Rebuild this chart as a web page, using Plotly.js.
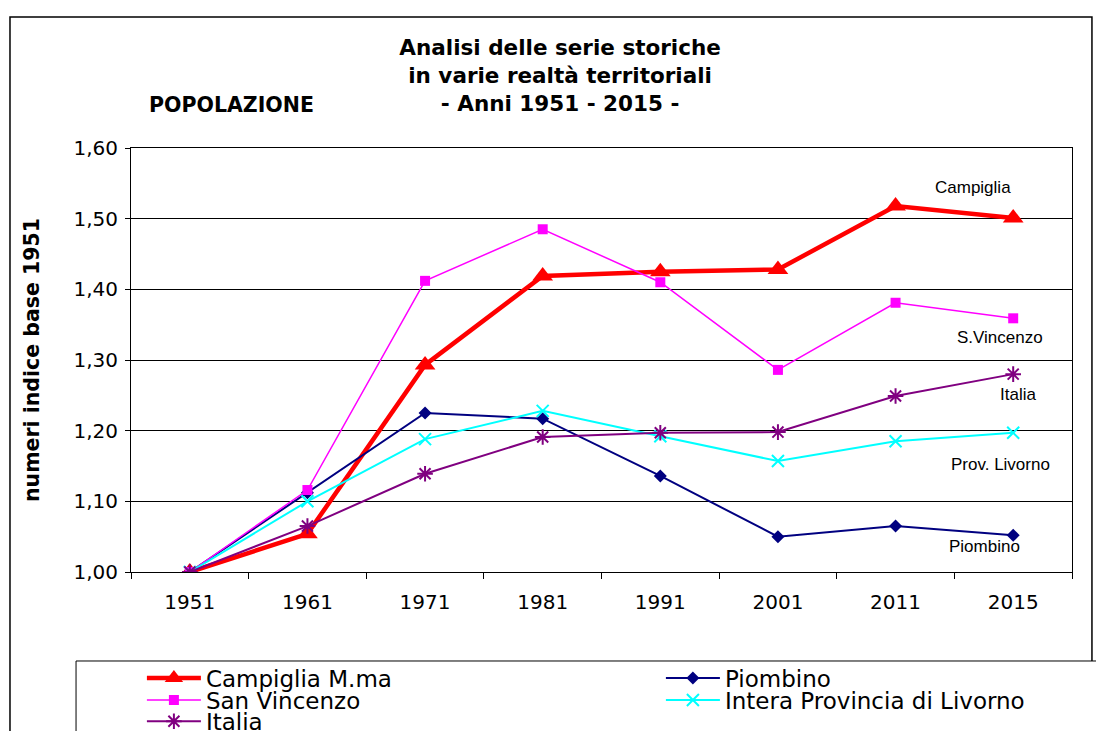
<!DOCTYPE html>
<html><head><meta charset="utf-8">
<script src="https://cdn.plot.ly/plotly-3.0.1.min.js"></script>
<style>body{margin:0;padding:0;background:#fff}#chart{width:1096px;height:731px}</style>
</head><body><div id="chart"></div>
<script>
const years = ['1951','1961','1971','1981','1991','2001','2011','2015'];
const campiglia = [1.000, 1.054, 1.293, 1.419, 1.425, 1.428, 1.518, 1.501];
const piombino = [1.000, 1.112, 1.225, 1.217, 1.136, 1.050, 1.065, 1.052];
const sanVincenzo = [1.000, 1.116, 1.412, 1.485, 1.410, 1.286, 1.381, 1.359];
const livorno = [1.000, 1.100, 1.188, 1.228, 1.192, 1.157, 1.185, 1.197];
const italia = [1.000, 1.065, 1.139, 1.191, 1.197, 1.198, 1.249, 1.280];
const seriesNames = ['Campiglia M.ma','Piombino','San Vincenzo','Intera Provincia di Livorno','Italia'];
const endLabels = ['Campiglia','S.Vincenzo','Italia','Prov. Livorno','Piombino'];

const traces = [
  {x: years, y: campiglia, name: seriesNames[0], type:'scatter', mode:'lines+markers', legend:'legend',
   line:{color:'#FF0000', width:4.5}, marker:{symbol:'triangle-up', size:18, color:'#FF0000'}},
  {x: years, y: piombino, name: seriesNames[1], type:'scatter', mode:'lines+markers', legend:'legend',
   line:{color:'#000080', width:2}, marker:{symbol:'diamond', size:10, color:'#000080'}},
  {x: years, y: sanVincenzo, name: seriesNames[2], type:'scatter', mode:'lines+markers', legend:'legend2',
   line:{color:'#FF00FF', width:1.5}, marker:{symbol:'square', size:10, color:'#FF00FF'}},
  {x: years, y: livorno, name: seriesNames[3], type:'scatter', mode:'lines+markers', legend:'legend2',
   line:{color:'#00FFFF', width:2}, marker:{symbol:'x-thin', size:12, color:'#00FFFF', line:{color:'#00FFFF', width:2}}},
  {x: years, y: italia, name: seriesNames[4], type:'scatter', mode:'lines+markers', legend:'legend3',
   line:{color:'#800080', width:2}, marker:{symbol:'asterisk', size:13, color:'#800080', line:{color:'#800080', width:2}}}
];

const legendBase = {orientation:'h', bgcolor:'rgba(0,0,0,0)', borderwidth:0, xanchor:'left', yanchor:'middle',
  x:-0.0001, indentation:11, entrywidth:439, entrywidthmode:'pixels', itemwidth:54,
  font:{family:'DejaVu Sans', size:23, color:'#000'}, itemclick:false, itemdoubleclick:false};

const labelFont = {family:'Liberation Sans', size:17, color:'#000'};
function endLabel(i, x, y) {
  return {text:endLabels[i], xref:'paper', yref:'paper', x:x, y:y, xanchor:'center', yanchor:'middle', showarrow:false, font:labelFont};
}

const layout = {
  width:1096, height:731,
  margin:{l:131, r:24, t:148, b:159, autoexpand:false},
  paper_bgcolor:'#fff', plot_bgcolor:'#fff',
  separators:',.',
  showlegend:true,
  legend: Object.assign({}, legendBase, {y:-0.25}),
  legend2: Object.assign({}, legendBase, {y:-0.302}),
  legend3: Object.assign({}, legendBase, {y:-0.352}),
  title:{text:'Analisi delle serie storiche<br>in varie realtà territoriali<br>- Anni 1951 - 2015 -',
    font:{family:'DejaVu Sans', size:21.5, color:'#000', weight:'bold'},
    xref:'paper', x:0.456, xanchor:'center', yref:'container', y:0.925, yanchor:'top'},
  xaxis:{type:'category', range:[-0.5,7.5], showgrid:false, showline:true, mirror:true, linecolor:'#000', linewidth:1,
    ticks:'outside', tickson:'boundaries', ticklen:6, tickcolor:'#000', ticklabelstandoff:12,
    tickfont:{family:'DejaVu Sans', size:20, color:'#000'}, zeroline:false, fixedrange:true},
  yaxis:{range:[1.0,1.6], dtick:0.1, tick0:1.0, tickformat:'.2f', showgrid:true, gridcolor:'#000', gridwidth:1,
    showline:true, mirror:true, linecolor:'#000', linewidth:1, ticks:'outside', ticklen:5, tickcolor:'#000', ticklabelstandoff:3,
    tickfont:{family:'DejaVu Sans', size:20, color:'#000'}, zeroline:false, fixedrange:true,
    title:{text:'numeri indice base 1951', font:{family:'DejaVu Sans', size:20.5, color:'#000', weight:'bold'}, standoff:28}},
  shapes:[
    {type:'rect', xref:'paper', yref:'paper', x0:-0.1286, x1:1.0212, y0:-0.6, y1:1.309, line:{color:'#000', width:1.5}, layer:'below'},
    {type:'rect', xref:'paper', yref:'paper', x0:-0.0584, x1:1.1, y0:-0.6, y1:-0.2099, line:{color:'#000', width:1}, fillcolor:'#fff', layer:'below'}
  ],
  annotations:[
    {text:'POPOLAZIONE', xref:'paper', yref:'paper', x:0.1073, y:1.1014, xanchor:'center', yanchor:'middle', showarrow:false,
     font:{family:'DejaVu Sans', size:20.5, color:'#000', weight:'bold'}},
    endLabel(0, 0.8948, 0.9057),
    endLabel(1, 0.9235, 0.5519),
    endLabel(2, 0.9426, 0.4175),
    endLabel(3, 0.9235, 0.2524),
    endLabel(4, 0.9075, 0.059)
  ]
};
Plotly.newPlot('chart', traces, layout, {staticPlot:true, displayModeBar:false});
</script></body></html>
